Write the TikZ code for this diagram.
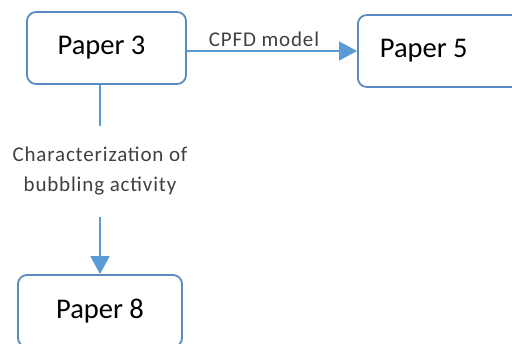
\documentclass[tikz,border=0pt]{standalone}
\usepackage{fontspec}
\setmainfont{Carlito}
\newfontfamily\lblfont[LetterSpace=4]{Carlito}
\usetikzlibrary{arrows.meta}
\definecolor{boxblue}{HTML}{5A8AC0}
\definecolor{arrblue}{HTML}{5B9BD5}
\definecolor{lbltxt}{HTML}{404040}
\tikzset{
  paperbox/.style={draw=boxblue, line width=1.8pt, rounded corners=9pt, fill=white, text=black, font=\fontsize{28.5}{30}\selectfont, inner sep=0pt},
  conn/.style={draw=arrblue, line width=1.8pt},
  connarrow/.style={conn, -{Triangle[length=18pt,width=19pt]}},
  lbl/.style={text=lbltxt, font=\lblfont\fontsize{21}{30}\selectfont, align=center, inner sep=0pt}
}
\begin{document}
\begin{tikzpicture}[x=1pt,y=-1pt]
\useasboundingbox (0,0) rectangle (512,344);
\node[paperbox, minimum width=159pt, minimum height=72pt] (p3) at (106.5,48) {\hspace*{-10pt}Paper 3};
\node[paperbox, anchor=west, minimum height=72pt, inner xsep=22pt] (p5) at (357,51) {\makebox[131pt][l]{Paper 5}};
\node[paperbox, minimum width=164pt, minimum height=72pt] (p8) at (100,311) {Paper 8};
\node[lbl, minimum height=91pt] (ch) at (100,171.5) {Characterization of\\bubbling activity};
\node[lbl, anchor=south] (cpfd) at (264,47) {CPFD model};
\draw[conn] (p3.south -| ch.north) -- (ch.north);
\draw[connarrow] (ch.south) -- (p8.north);
\draw[connarrow] (p3.east |- p5.west) -- (p5.west);
\end{tikzpicture}
\end{document}
